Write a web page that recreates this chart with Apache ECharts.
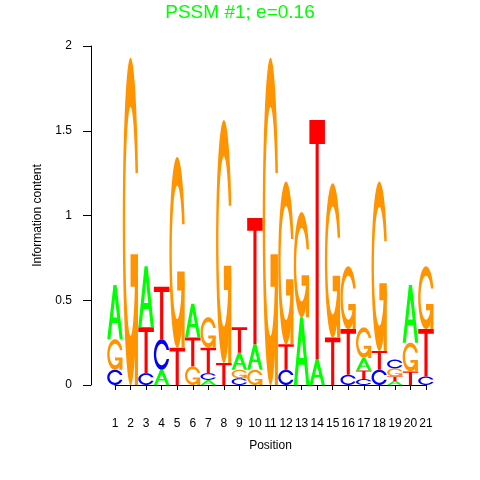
<!DOCTYPE html>
<html><head><meta charset="utf-8">
<script src="https://cdn.jsdelivr.net/npm/echarts@6/dist/echarts.min.js"></script>
<style>html,body{margin:0;padding:0;background:#fff}#c{width:480px;height:480px}</style>
</head><body><div id="c"></div>
<script>
// ---- data (information content per base, per position) ----
const positions = [1,2,3,4,5,6,7,8,9,10,11,12,13,14,15,16,17,18,19,20,21];
const hA = [0.32,0,0.36,0.09,0,0.20,0.03,0,0.10,0.15,0,0,0.40,0.15,0,0,0.075,0,0.024,0.34,0];
const hC = [0.09,0,0.07,0.18,0,0,0.04,0,0.04,0,0,0.09,0,0,0,0.06,0.035,0.09,0.052,0,0.05];
const hG = [0.18,1.93,0,0,1.125,0.11,0.18,1.433,0.05,0.09,1.93,0.96,0.62,0,0.91,0.37,0.18,1.00,0.048,0.17,0.37];
const hT = [0,0,0.27,0.31,0.22,0.17,0.15,0.13,0.15,0.745,0,0.15,0,1.413,0.28,0.27,0.05,0.11,0.026,0.08,0.28];
const yTicks = [0,0.5,1,1.5,2];
const titleText = 'PSSM #1; e=0.16';

// ---- glyph outlines in a unit box (style, not data) ----
const COLORS = {A:'#00FF00', C:'#0000FF', G:'#FF9400', T:'#FF0000'};
function cOutline(){
  const n=100, a1=[], a2=[];
  const s1=0.3+Math.PI/2;
  for(let k=0;k<n;k++){ a1.push(s1+(Math.PI-s1)*k/(n-1)); a2.push(Math.PI+0.5*Math.PI*k/(n-1)); }
  const xl=a1.map(a=>0.5+0.5*Math.sin(a)).concat(a2.map(a=>0.5+0.5*Math.sin(a)));
  const yl1=a1.map(a=>0.5+0.5*Math.cos(a));
  const yl=yl1.concat(a2.map(a=>0.5+0.5*Math.cos(a)));
  const x=xl.concat(xl.slice().reverse());
  const y=yl.concat(yl.slice().reverse().map(v=>1-v));
  const maxy=Math.max(...yl1);
  let xi1=[], yi1=[];
  a1.forEach(a=>{const yy=0.5+0.35*Math.cos(a); if(yy<=maxy){xi1.push(0.5+0.35*Math.sin(a)); yi1.push(yy);} });
  yi1[0]=maxy;
  const xi=xi1.concat(a2.map(a=>0.5+0.35*Math.sin(a)));
  const yi=yi1.concat(a2.map(a=>0.5+0.35*Math.cos(a)));
  const x1=xi.concat(xi.slice().reverse());
  const y1=yi.concat(yi.slice().reverse().map(v=>1-v));
  const X=x.concat(x1.slice().reverse()), Y=y.concat(y1.slice().reverse());
  return X.map((v,k)=>[v,Y[k]]);
}
const r1 = 0.5+0.5*Math.cos(0.3);
const SHAPES = {
  A: [[[[0,0],[0.4,1],[0.6,1],[1,0],[0.8,0],[0.68,0.3],[0.32,0.3],[0.2,0]], [[0.64,0.4],[0.5,0.75],[0.36,0.4]]]],
  T: [[[[0,1],[1,1],[1,0.9],[0.6,0.9],[0.6,0],[0.4,0],[0.4,0.9],[0,0.9]]]],
  C: [[cOutline()]],
  G: [[cOutline()], [[[r1,0.4],[0.5,0.4],[0.5,0.3],[r1-0.2,0.3],[r1-0.2,0],[r1,0]]]]
};
const BASES = ['A','C','G','T'];
const HEIGHTS = {A:hA, C:hC, G:hG, T:hT};

function toPath(subpaths, map){
  return subpaths.map(sp=>'M'+sp.map(p=>{const q=map(p[0],p[1]); return q[0].toFixed(2)+' '+q[1].toFixed(2);}).join('L')+'Z').join(' ');
}

const chart = echarts.init(document.getElementById('c'), null, {renderer:'canvas'});
chart.setOption({
  animation:false,
  backgroundColor:'#fff',
  title:{text:titleText, left:'center', top:-2, textStyle:{color:'#00FF00', fontSize:19, fontWeight:'normal', fontFamily:'Liberation Sans'}},
  grid:{left:115, right:54, top:46, bottom:95, containLabel:false},
  xAxis:{type:'value', min:1, max:21, interval:1, offset:17,
    axisLine:{show:true, lineStyle:{color:'#000', width:1}},
    axisTick:{show:true, length:5, lineStyle:{color:'#000'}},
    axisLabel:{show:true, margin:16, color:'#000', fontSize:12, fontFamily:'Liberation Sans', showMinLabel:true, showMaxLabel:true},
    splitLine:{show:false},
    name:'Position', nameLocation:'middle', nameGap:38, nameTextStyle:{color:'#000', fontSize:12, fontFamily:'Liberation Sans'}},
  yAxis:{type:'value', min:0, max:2, interval:0.5, offset:24,
    axisLine:{show:true, lineStyle:{color:'#000', width:1}},
    axisTick:{show:true, length:8, lineStyle:{color:'#000'}},
    axisLabel:{show:true, margin:19, color:'#000', fontSize:12, fontFamily:'Liberation Sans',
      formatter:v=>String(yTicks.find(t=>Math.abs(t-v)<1e-9) ?? v)},
    splitLine:{show:false},
    name:'Information content', nameLocation:'middle', nameGap:47, nameRotate:90,
    nameTextStyle:{color:'#000', fontSize:12, fontFamily:'Liberation Sans'}},
  series:[{
    type:'custom', clip:false,
    data: positions.map((p,i)=>[p, hA[i]+hC[i]+hG[i]+hT[i]]),
    encode:{x:0, y:1},
    renderItem:function(params, api){
      const i=params.dataIndex, pos=api.value(0);
      const items=BASES.map(b=>({b, h:HEIGHTS[b][i]})).filter(o=>o.h>0).sort((p,q)=>p.h-q.h);
      let y0=0; const children=[];
      items.forEach(o=>{
        const p0=api.coord([pos-0.5, y0]), p1=api.coord([pos+0.5, y0+o.h]);
        const L=p0[0], R=p1[0], B=p0[1], Tp=p1[1];
        const map=(u,v)=>[L+u*(R-L), B-v*(B-Tp)];
        SHAPES[o.b].forEach(sub=>children.push({type:'path', shape:{pathData:toPath(sub,map)}, style:{fill:COLORS[o.b], stroke:null}}));
        y0+=o.h;
      });
      return {type:'group', children};
    }
  }]
});
</script></body></html>
